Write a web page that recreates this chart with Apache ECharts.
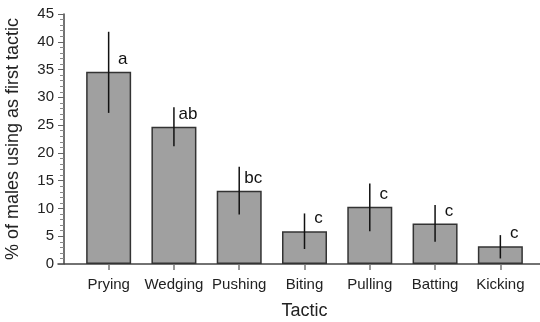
<!DOCTYPE html>
<html><head><meta charset="utf-8">
<script src="https://cdn.jsdelivr.net/npm/echarts@6/dist/echarts.min.js"></script>
<style>html,body{margin:0;padding:0;background:#fff}#c{width:540px;height:322px}</style>
</head><body><div id="c"></div>
<script>
const categories = ['Prying','Wedging','Pushing','Biting','Pulling','Batting','Kicking'];
const values = [34.6, 24.7, 13.2, 5.9, 10.3, 7.3, 3.2];
const errLow = [27.2, 21.2, 8.9, 2.7, 5.9, 4.0, 1.0];
const errHigh = [41.8, 28.2, 17.5, 9.1, 14.5, 10.6, 5.2];
const letters = ['a','ab','bc','c','c','c','c'];
const yTicks = [0, 5, 10, 15, 20, 25, 30, 35, 40, 45];

const FONT = '"Liberation Sans", Arial, sans-serif';
const chart = echarts.init(document.getElementById('c'), null, {renderer:'canvas'});
chart.setOption({
  animation: false,
  backgroundColor: '#fff',
  textStyle: {fontFamily: FONT},
  grid: [
    {left: 76, right: 7, top: 14, bottom: 58, containLabel:false, outerBoundsMode:'none'},
    {left: 58, right: 0, top: 14, bottom: 58, containLabel:false, outerBoundsMode:'none'}
  ],
  xAxis: [
    {type:'category', gridIndex:0, data: categories,
     name:'Tactic', nameLocation:'middle', nameGap: 38,
     nameTextStyle:{fontSize:18, color:'#222', fontFamily:FONT},
     axisLine:{show:false},
     axisTick:{show:true, alignWithLabel:true, length:6, lineStyle:{color:'#777', width:1.5}},
     axisLabel:{interval:0, fontSize:15, color:'#222', margin:13, fontFamily:FONT}},
    {type:'category', gridIndex:1, data:[''], 
     axisLine:{show:true, lineStyle:{color:'#444', width:1.5}},
     axisTick:{show:false}, axisLabel:{show:false}}
  ],
  yAxis: [
    {type:'value', gridIndex:0, min: yTicks[0], max: yTicks[yTicks.length-1], interval: 5,
     offset: 12,
     name:'% of males using as first tactic', nameLocation:'middle', nameGap: 42,
     nameTextStyle:{fontSize:18, color:'#222', fontFamily:FONT},
     axisLine:{show:true, lineStyle:{color:'#444', width:1.5}},
     axisTick:{show:true, length:6, lineStyle:{color:'#666', width:1}},
     minorTick:{show:true, splitNumber:5, length:4, lineStyle:{color:'#888', width:1}},
     splitLine:{show:false},
     axisLabel:{fontSize:15, color:'#222', margin:10, fontFamily:FONT}},
    {type:'value', gridIndex:1, min:0, max:45, show:false}
  ],
  series: [
    {type:'bar', xAxisIndex:0, yAxisIndex:0, data: values, barWidth: 45,
     itemStyle:{color:'#a0a0a0', borderColor:'#333', borderWidth:1.5},
     label:{show:true, position:'top', distance:4, offset:[14,0], fontSize:17, color:'#111',
       fontFamily:FONT, formatter: p => letters[p.dataIndex]}},
    {type:'custom', xAxisIndex:0, yAxisIndex:0,
     data: categories.map((c,i)=>[i, errLow[i], errHigh[i]]),
     renderItem: (params, api) => {
       const lo = api.coord([api.value(0), api.value(1)]);
       const hi = api.coord([api.value(0), api.value(2)]);
       return {type:'line', shape:{x1:lo[0], y1:lo[1], x2:hi[0], y2:hi[1]},
               style:{stroke:'#111', lineWidth:1.5}};
     }, z: 5}
  ]
});
</script></body></html>
